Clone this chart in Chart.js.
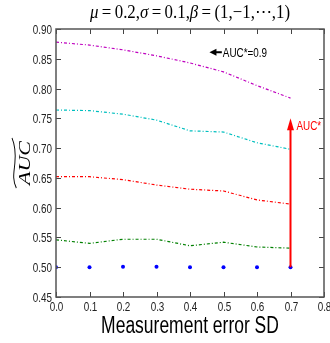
<!DOCTYPE html>
<html lang="en">
<head>
    <meta charset="UTF-8">
    <title>AUC vs measurement error</title>
    <style>
        html, body { margin: 0; padding: 0; background: #fff; }
        #wrap { width: 330px; height: 343px; }
    </style>
</head>
<body>
    <div id="wrap"><canvas id="Chart" width="330" height="343"></canvas></div>

    <script src="https://cdn.jsdelivr.net/npm/chart.js"></script>
    <script>
        // measurement error SD
        const errorSD = [0.0, 0.1, 0.2, 0.3, 0.4, 0.5, 0.6, 0.7];
        // estimated AUC for each true AUC*
        const auc09 = [0.878, 0.873, 0.865, 0.855, 0.843, 0.828, 0.805, 0.784];
        const auc08 = [0.764, 0.763, 0.757, 0.747, 0.729, 0.727, 0.709, 0.698];
        const auc07 = [0.652, 0.652, 0.647, 0.638, 0.631, 0.628, 0.613, 0.606];
        const auc06 = [0.546, 0.540, 0.547, 0.547, 0.536, 0.542, 0.534, 0.532];
        const auc05 = [0.500, 0.500, 0.501, 0.501, 0.500, 0.500, 0.500, 0.500];

        // annotations
        const redArrow = { x: 0.7, from: 0.50, to: 0.75, label: 'AUC*' };
        const blackArrow = { y: 0.861, from: 0.495, to: 0.458, label: 'AUC*=0.9' };

        const titleText = ['μ', '\u2009=\u20090.2,', 'σ', '\u2009=\u20090.1,', 'β', '\u2009=\u2009(1,−1,⋯,1)'];
        const xTitle = 'Measurement error SD';

        function pts(ys) {
            return errorSD.map((x, i) => ({ x: x, y: ys[i] }));
        }

        function lineSet(label, ys, color) {
            return {
                label: label,
                data: pts(ys),
                borderColor: color,
                borderWidth: 1.2,
                borderDash: [3, 2, 1, 2],
                pointRadius: 0,
                fill: false,
                tension: 0
            };
        }

        const sans = '"Liberation Sans", Arial, sans-serif';
        const serif = '"Liberation Serif", "DejaVu Serif", serif';
        const squeeze = 0.76;  // the reference text is narrow

        // narrow text helper
        function narrowText(c, s, x, y, size, align, base, color) {
            c.save();
            c.font = size + 'px ' + sans;
            c.fillStyle = color;
            c.textAlign = align;
            c.textBaseline = base;
            c.translate(x, y);
            c.scale(squeeze, 1);
            c.fillText(s, 0, 0);
            c.restore();
        }

        // frame, inward ticks, labels, title and arrows
        const decor = {
            id: 'decor',
            afterDraw(chart) {
                const c = chart.ctx;
                const a = chart.chartArea;
                const xs = chart.scales.x, ys = chart.scales.y;
                c.save();

                // inward ticks on all four sides, with labels
                c.strokeStyle = '#444';
                c.lineWidth = 1;
                xs.ticks.forEach(t => {
                    const px = Math.round(xs.getPixelForValue(t.value)) + 0.5;
                    c.beginPath();
                    c.moveTo(px, a.bottom); c.lineTo(px, a.bottom - 5);
                    c.moveTo(px, a.top); c.lineTo(px, a.top + 5);
                    c.stroke();
                    narrowText(c, t.value.toFixed(1), px, a.bottom + 14, 13, 'center', 'alphabetic', '#222');
                });
                ys.ticks.forEach(t => {
                    const py = Math.round(ys.getPixelForValue(t.value)) + 0.5;
                    c.beginPath();
                    c.moveTo(a.left, py); c.lineTo(a.left + 5, py);
                    c.moveTo(a.right, py); c.lineTo(a.right - 5, py);
                    c.stroke();
                    narrowText(c, t.value.toFixed(2), a.left - 4, py + 4.5, 13, 'right', 'alphabetic', '#222');
                });

                // frame
                c.strokeStyle = '#555';
                c.lineWidth = 1.5;
                c.strokeRect(a.left, a.top, a.right - a.left, a.bottom - a.top);

                // x axis title
                narrowText(c, xTitle, (a.left + a.right) / 2, 333, 23, 'center', 'alphabetic', '#000');

                // red vertical arrow
                const rx = xs.getPixelForValue(redArrow.x);
                const r0 = ys.getPixelForValue(redArrow.from);
                const r1 = ys.getPixelForValue(redArrow.to);
                c.strokeStyle = '#ff0000';
                c.fillStyle = '#ff0000';
                c.lineWidth = 2;
                c.beginPath();
                c.moveTo(rx, r0); c.lineTo(rx, r1 + 10);
                c.stroke();
                c.beginPath();
                c.moveTo(rx, r1); c.lineTo(rx - 3.5, r1 + 12); c.lineTo(rx + 3.5, r1 + 12);
                c.closePath(); c.fill();
                narrowText(c, redArrow.label, rx + 6, r1 + 12, 13, 'left', 'alphabetic', '#ff0000');

                // black horizontal arrow
                const by = ys.getPixelForValue(blackArrow.y);
                const b0 = xs.getPixelForValue(blackArrow.from);
                const b1 = xs.getPixelForValue(blackArrow.to);
                c.strokeStyle = '#000';
                c.fillStyle = '#000';
                c.lineWidth = 2;
                c.beginPath();
                c.moveTo(b0, by); c.lineTo(b1 + 5, by);
                c.stroke();
                c.beginPath();
                c.moveTo(b1, by); c.lineTo(b1 + 7, by - 3.5); c.lineTo(b1 + 7, by + 3.5);
                c.closePath(); c.fill();
                narrowText(c, blackArrow.label, b0 + 1, by + 5, 13, 'left', 'alphabetic', '#000');

                // title, math style, stretched to the reference width
                const cx = (a.left + a.right) / 2;
                const parts = titleText.map((s, i) => ({
                    s: s,
                    f: (i % 2 === 0 ? 'italic ' : '') + '17px ' + serif
                }));
                let tw = 0;
                parts.forEach(p => { c.font = p.f; p.w = c.measureText(p.s).width; tw += p.w; });
                const k = 200 / tw;
                c.save();
                c.translate(cx - 100, 18);
                c.scale(k, 1.1);
                c.fillStyle = '#000';
                c.textAlign = 'left';
                c.textBaseline = 'alphabetic';
                let tx = 0;
                parts.forEach(p => { c.font = p.f; c.fillText(p.s, tx, 0); tx += p.w; });
                c.restore();

                // y label: AUC with wide tilde
                const ly = (a.top + a.bottom) / 2;
                c.save();
                c.translate(30, ly);
                c.rotate(-Math.PI / 2);
                c.scale(1, 0.72);
                c.fillStyle = '#000';
                c.font = 'italic 22px ' + serif;
                c.textAlign = 'center';
                c.textBaseline = 'alphabetic';
                c.fillText('AUC', 0, 0);
                const w = c.measureText('AUC').width + 6;
                c.strokeStyle = '#000';
                c.lineWidth = 1.3;
                c.beginPath();
                c.moveTo(-w / 2, -19);
                c.bezierCurveTo(-w / 3, -25, -w / 6, -22, 0, -21);
                c.bezierCurveTo(w / 6, -20, w / 3, -20, w / 2, -25);
                c.stroke();
                c.restore();

                c.restore();
            }
        };

        const ctx = document.getElementById('Chart').getContext('2d');
        const chart = new Chart(ctx, {
            type: 'line',
            data: {
                datasets: [
                    lineSet('AUC*=0.9', auc09, '#bf00bf'),
                    lineSet('AUC*=0.8', auc08, '#00bfbf'),
                    lineSet('AUC*=0.7', auc07, '#ff0000'),
                    lineSet('AUC*=0.6', auc06, '#008000'),
                    {
                        label: 'AUC*=0.5',
                        data: pts(auc05),
                        showLine: false,
                        pointRadius: 2,
                        pointBorderWidth: 0,
                        pointBackgroundColor: '#0000ff',
                        borderColor: '#0000ff'
                    }
                ]
            },
            options: {
                responsive: false,
                animation: false,
                layout: { padding: { top: 29, right: 6, left: 0, bottom: 0 } },
                plugins: {
                    legend: { display: false },
                    tooltip: { enabled: false },
                    title: { display: false }
                },
                scales: {
                    x: {
                        type: 'linear',
                        min: 0, max: 0.8,
                        grid: { display: false },
                        border: { display: false },
                        afterFit: s => { s.height = 46; s.paddingRight = 0; s.paddingLeft = 0; },
                        ticks: { display: false, stepSize: 0.1 }
                    },
                    y: {
                        min: 0.45, max: 0.9,
                        grid: { display: false },
                        border: { display: false },
                        afterFit: s => { s.width = 56; s.paddingTop = 0; s.paddingBottom = 0; },
                        ticks: { display: false, stepSize: 0.05 }
                    }
                }
            },
            plugins: [decor]
        });
    </script>
</body>
</html>
